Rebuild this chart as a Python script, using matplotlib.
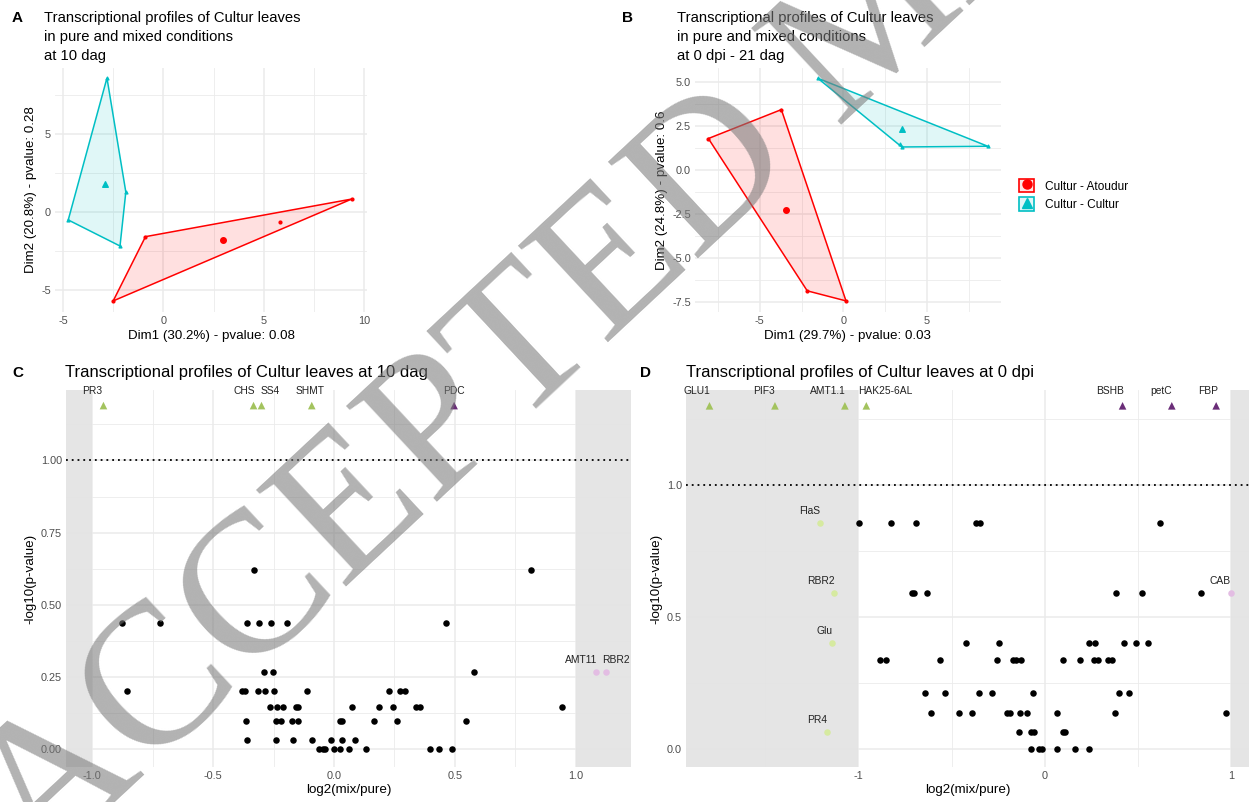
import numpy as np
import matplotlib
matplotlib.use('Agg')
import matplotlib.pyplot as plt
from matplotlib.patches import Polygon, Patch
from matplotlib.lines import Line2D
from matplotlib.legend_handler import HandlerTuple

plt.rcParams['font.family'] = ['Liberation Sans', 'DejaVu Sans']

W, H = 1249, 802
RED = '#FF0000'
CYAN = '#00BFC4'
GREEN = '#A3C35E'
PURPLE = '#6A2D78'
PINK = '#E3BDE3'
LGREEN = '#D6EAA0'
BAND = '#E3E3E3'
GRID = '#EBEBEB'
TICK = '#4D4D4D'

# ---- panel A : PCA individuals, 10 dag
a_atoudur_x = [9.39, -0.89, -2.50, 5.80]
a_atoudur_y = [0.83, -1.58, -5.70, -0.66]
a_cultur_x = [-2.81, -1.87, -2.16, -4.74]
a_cultur_y = [8.59, 1.28, -2.18, -0.51]

# ---- panel B : PCA individuals, 0 dpi - 21 dag
b_atoudur_x = [-8.08, -3.71, 0.16, -2.16]
b_atoudur_y = [1.78, 3.42, -7.43, -6.86]
b_cultur_x = [-1.53, 8.65, 3.50, 3.40]
b_cultur_y = [5.20, 1.34, 1.30, 1.45]

# ---- panel C : volcano 10 dag
c_fc = [-0.329, 0.815,
        -0.878, -0.719, -0.359, -0.311, -0.262, -0.194, 0.462,
        -0.290, -0.253, 0.581,
        -0.857, -0.380, -0.368, -0.314, -0.284, -0.250, -0.110, 0.226, 0.272, 0.292,
        -0.265, -0.236, -0.211, -0.159, -0.147, 0.076, 0.187, 0.245, 0.339, 0.356, 0.945,
        -0.363, -0.238, -0.219, -0.172, -0.147, 0.024, 0.034, 0.164, 0.262, 0.547,
        -0.359, -0.240, -0.169, -0.089, -0.012, 0.035, 0.086,
        -0.061, -0.047, -0.037, 0.000, 0.025, 0.061, 0.132, 0.397, 0.435, 0.489]
c_pv = [0.621] * 2 + [0.438] * 7 + [0.268] * 3 + [0.201] * 10 + [0.145] * 11 + \
       [0.098] * 10 + [0.031] * 7 + [0.0] * 10
c_up_genes = ['AMT11', 'RBR2']
c_up_fc = [1.084, 1.126]
c_up_pv = [0.268, 0.268]
c_sig_genes = ['PR3', 'CHS', 'SS4', 'SHMT', 'PDC']
c_sig_fc = [-0.954, -0.333, -0.300, -0.092, 0.497]
c_sig_up = [False, False, False, False, True]
c_sig_y = 1.19

# ---- panel D : volcano 0 dpi
d_fc = [-0.998, -0.824, -0.690, -0.370, -0.347, 0.617,
        -0.711, -0.705, -0.634, 0.379, 0.521, 0.837,
        -0.423, -0.247, 0.238, 0.266, 0.423, 0.487, 0.554,
        -0.885, -0.851, -0.561, -0.259, -0.174, -0.153, -0.126, 0.096, 0.188, 0.262, 0.282, 0.339, 0.358,
        -0.644, -0.538, -0.356, -0.285, -0.063, 0.397, 0.450,
        -0.609, -0.462, -0.389, -0.203, -0.190, -0.134, -0.094, 0.065, 0.374, 0.969,
        -0.142, -0.077, -0.061, 0.094, 0.107,
        -0.073, -0.031, -0.015, 0.063, 0.163, 0.236]
d_pv = [0.857] * 6 + [0.590] * 6 + [0.402] * 7 + [0.336] * 13 + [0.212] * 7 + \
       [0.138] * 10 + [0.063] * 5 + [0.0] * 6
d_down_genes = ['FlaS', 'RBR2', 'Glu', 'PR4']
d_down_fc = [-1.209, -1.132, -1.144, -1.169]
d_down_pv = [0.857, 0.590, 0.402, 0.063]
d_up_genes = ['CAB']
d_up_fc = [1.0]
d_up_pv = [0.590]
d_sig_genes = ['GLU1', 'PIF3', 'AMT1.1', 'HAK25-6AL', 'BSHB', 'petC', 'FBP']
d_sig_fc = [-1.799, -1.448, -1.073, -0.958, 0.416, 0.680, 0.918]
d_sig_up = [False, False, False, False, True, True, True]
d_sig_y = 1.30

LAB = 9.6


def box(l, t, r, b):
    return [l / W, 1 - b / H, (r - l) / W, (b - t) / H]


def hull(xs, ys):
    pts = sorted(zip(xs, ys))
    def cross(o, a, b):
        return (a[0] - o[0]) * (b[1] - o[1]) - (a[1] - o[1]) * (b[0] - o[0])
    lower, upper = [], []
    for p in pts:
        while len(lower) >= 2 and cross(lower[-2], lower[-1], p) <= 0:
            lower.pop()
        lower.append(p)
    for p in reversed(pts):
        while len(upper) >= 2 and cross(upper[-2], upper[-1], p) <= 0:
            upper.pop()
        upper.append(p)
    return lower[:-1] + upper[:-1]


def style(ax, xmaj, xmin, ymaj, ymin, xfmt, yfmt):
    ax.set_facecolor('white')
    for s in ax.spines.values():
        s.set_visible(False)
    for v in xmin:
        ax.axvline(v, color=GRID, lw=0.6, zorder=0)
    for v in ymin:
        ax.axhline(v, color=GRID, lw=0.6, zorder=0)
    for v in xmaj:
        ax.axvline(v, color=GRID, lw=1.1, zorder=0)
    for v in ymaj:
        ax.axhline(v, color=GRID, lw=1.1, zorder=0)
    ax.set_xticks(xmaj)
    ax.set_xticklabels([xfmt.format(v) for v in xmaj])
    ax.set_yticks(ymaj)
    ax.set_yticklabels([yfmt.format(v) for v in ymaj])
    ax.tick_params(length=0, labelsize=7.8, labelcolor=TICK, pad=3)


def pca_panel(ax, gx1, gy1, gx2, gy2):
    for xs, ys, col, mk in ((gx1, gy1, RED, 'o'), (gx2, gy2, CYAN, '^')):
        hp = hull(xs, ys)
        ax.add_patch(Polygon(hp, closed=True, facecolor=col, alpha=0.12, edgecolor='none', zorder=2))
        ax.add_patch(Polygon(hp, closed=True, facecolor='none', edgecolor=col, lw=1.1, zorder=3))
        ax.scatter(xs, ys, s=4, color=col, marker=mk, zorder=4)
        ax.scatter([np.mean(xs)], [np.mean(ys)], s=16, color=col, marker=mk, zorder=5)


def volcano(ax, fc, pv, sig_genes, sig_fc, sig_up, sig_y, offs):
    ax.scatter(fc, pv, s=22, color='black', zorder=4, linewidths=0)
    cols = [PURPLE if u else GREEN for u in sig_up]
    ax.scatter(sig_fc, [sig_y] * len(sig_fc), s=30, marker='^', color=cols, zorder=4, linewidths=0)
    for g, x, dx in zip(sig_genes, sig_fc, offs):
        ax.annotate(g, (x, sig_y), xytext=(dx, 7), textcoords='offset points',
                    ha='center', va='bottom', fontsize=7.4, color='#222222')
    ax.axhline(1.0, color='black', lw=1.3, ls=(0, (1, 2.2)), zorder=3)


fig = plt.figure(figsize=(W / 100, H / 100), dpi=100)

# A
axA = fig.add_axes(box(55, 68, 367, 312))
style(axA, [-5, 0, 5, 10], [-2.5, 2.5, 7.5], [-5, 0, 5], [-2.5, 2.5, 7.5], '{:g}', '{:g}')
pca_panel(axA, a_atoudur_x, a_atoudur_y, a_cultur_x, a_cultur_y)
axA.set_xlim(-5.40, 10.15)
axA.set_ylim(-6.41, 9.23)
axA.set_xlabel('Dim1 (30.2%) - pvalue: 0.08', fontsize=LAB, labelpad=3)
axA.set_ylabel('Dim2 (20.8%) - pvalue: 0.28', fontsize=LAB, labelpad=3)

# B
axB = fig.add_axes(box(695, 68, 1001, 312))
style(axB, [-5, 0, 5], [-7.5, -2.5, 2.5, 7.5], [-7.5, -5, -2.5, 0, 2.5, 5],
      [-6.25, -3.75, -1.25, 1.25, 3.75], '{:g}', '{:.1f}')
pca_panel(axB, b_atoudur_x, b_atoudur_y, b_cultur_x, b_cultur_y)
axB.set_xlim(-8.88, 9.44)
axB.set_ylim(-8.06, 5.78)
axB.set_xlabel('Dim1 (29.7%) - pvalue: 0.03', fontsize=LAB, labelpad=3)
axB.set_ylabel('Dim2 (24.8%) - pvalue: 0.6', fontsize=LAB, labelpad=3)

hr = (Patch(facecolor='#FFE4E4', edgecolor=RED, lw=1.2),
      Line2D([], [], marker='o', ls='none', color=RED, markersize=6.5))
hc = (Patch(facecolor='#E0F6F7', edgecolor=CYAN, lw=1.2),
      Line2D([], [], marker='^', ls='none', color=CYAN, markersize=6.5))
fig.legend([hr, hc], ['Cultur - Atoudur', 'Cultur - Cultur'],
           handler_map={tuple: HandlerTuple(ndivide=1, pad=0)},
           loc='center left', bbox_to_anchor=(1008 / W, 1 - 195 / H), frameon=False,
           fontsize=8.6, handlelength=1.3, handleheight=1.35, labelspacing=0.4, handletextpad=0.9)

# C
axC = fig.add_axes(box(66, 390, 631, 767))
style(axC, [-1.0, -0.5, 0.0, 0.5, 1.0], [-0.75, -0.25, 0.25, 0.75],
      [0.0, 0.25, 0.5, 0.75, 1.0], [0.125, 0.375, 0.625, 0.875, 1.125], '{:.1f}', '{:.2f}')
axC.axvspan(-2, -1.0, color=BAND, alpha=0.9, zorder=1, lw=0)
axC.axvspan(1.0, 2, color=BAND, alpha=0.9, zorder=1, lw=0)
volcano(axC, c_fc, c_pv, c_sig_genes, c_sig_fc, c_sig_up, c_sig_y, [-8, -7, 6, -1, 0])
axC.scatter(c_up_fc, c_up_pv, s=22, color=PINK, zorder=4, linewidths=0)
for g, x, y, dx in zip(c_up_genes, c_up_fc, c_up_pv, [-11, 7]):
    axC.annotate(g, (x, y), xytext=(dx, 5), textcoords='offset points',
                 ha='center', va='bottom', fontsize=7.4, color='#222222')
axC.set_xlim(-1.109, 1.229)
axC.set_ylim(-0.062, 1.244)
axC.set_xlabel('log2(mix/pure)', fontsize=LAB, labelpad=2)
axC.set_ylabel('-log10(p-value)', fontsize=LAB, labelpad=3)

# D
axD = fig.add_axes(box(686, 390, 1249, 767))
style(axD, [-1, 0, 1], [-1.5, -0.5, 0.5], [0.0, 0.5, 1.0], [0.25, 0.75, 1.25], '{:g}', '{:.1f}')
axD.axvspan(-3, -1.0, color=BAND, alpha=0.9, zorder=1, lw=0)
axD.axvspan(1.0, 2, color=BAND, alpha=0.9, zorder=1, lw=0)
volcano(axD, d_fc, d_pv, d_sig_genes, d_sig_fc, d_sig_up, d_sig_y, [-9, -8, -12, 14, -9, -8, -6])
axD.scatter(d_down_fc, d_down_pv, s=22, color=LGREEN, zorder=4, linewidths=0)
axD.scatter(d_up_fc, d_up_pv, s=22, color=PINK, zorder=4, linewidths=0)
for g, x, y, dx in zip(d_down_genes + d_up_genes, d_down_fc + d_up_fc, d_down_pv + d_up_pv,
                       [-7, -9, -5, -7, -8]):
    axD.annotate(g, (x, y), xytext=(dx, 5), textcoords='offset points',
                 ha='center', va='bottom', fontsize=7.4, color='#222222')
axD.set_xlim(-1.925, 1.094)
axD.set_ylim(-0.068, 1.36)
axD.set_xlabel('log2(mix/pure)', fontsize=LAB, labelpad=2)
axD.set_ylabel('-log10(p-value)', fontsize=LAB, labelpad=3)

# titles and panel letters
fig.text(12 / W, 1 - 18 / H, 'A', fontsize=11, fontweight='bold', va='center')
fig.text(44 / W, 1 - 11 / H, 'Transcriptional profiles of Cultur leaves\nin pure and mixed conditions\nat 10 dag',
         fontsize=10.6, va='top', linespacing=1.45)
fig.text(622 / W, 1 - 18 / H, 'B', fontsize=11, fontweight='bold', va='center')
fig.text(677 / W, 1 - 11 / H, 'Transcriptional profiles of Cultur leaves\nin pure and mixed conditions\nat 0 dpi - 21 dag',
         fontsize=10.6, va='top', linespacing=1.45)
fig.text(12 / W, 1 - 373 / H, 'C', fontsize=11, fontweight='bold', va='center')
fig.text(65 / W, 1 - 373 / H, 'Transcriptional profiles of Cultur leaves at 10 dag', fontsize=12, va='center')
fig.text(640 / W, 1 - 373 / H, 'D', fontsize=11, fontweight='bold', va='center')
fig.text(686 / W, 1 - 373 / H, 'Transcriptional profiles of Cultur leaves at 0 dpi', fontsize=12, va='center')

# watermark
fig.text(40 / W, 1 - 873 / H, 'ACCEPTED MANUSCRIPT', rotation=43, rotation_mode='anchor',
         ha='left', va='baseline', fontsize=145, family='Liberation Serif', color='#7a7a7a',
         alpha=0.58, zorder=20)

fig.savefig('out.png', dpi=100)
